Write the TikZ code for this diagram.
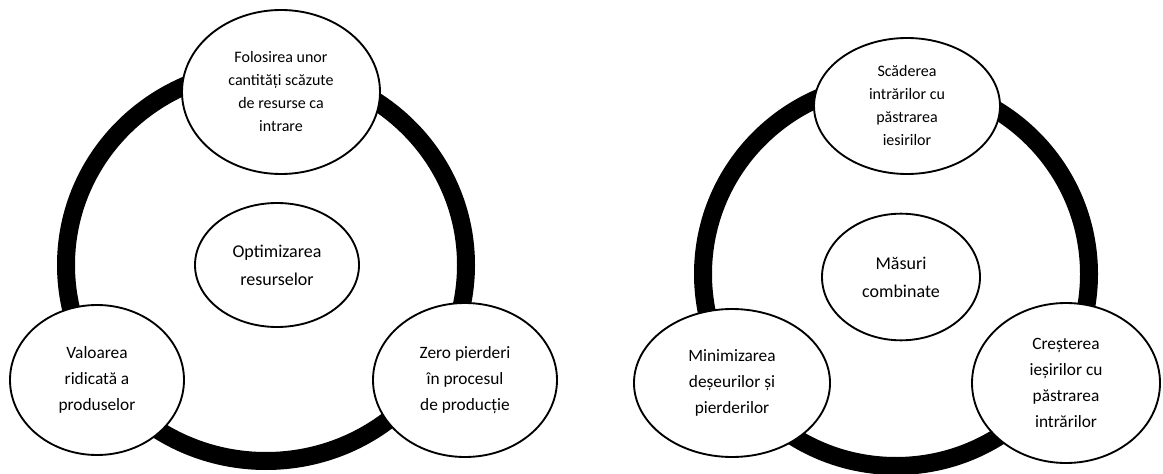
\documentclass[tikz,border=0pt]{standalone}
\usepackage{fontspec}
\setmainfont{Carlito}
\usetikzlibrary{shapes.geometric}

\tikzset{
  bubble/.style={ellipse, draw, line width=1.4pt, fill=white, inner sep=0pt, align=center},
  ring/.style={line width=13.5pt},
  toptext/.style={font=\fontsize{12}{17.25}\selectfont},
  sidetext/.style={font=\fontsize{13}{19.5}\selectfont},
  midtext/.style={font=\fontsize{13.5}{21}\selectfont},
}

\begin{document}
\begin{tikzpicture}[x=0.75pt, y=-0.75pt]
  \useasboundingbox (0, 0) rectangle (1163, 474);

  % Ring centres
  \coordinate (cL) at (266, 265);
  \coordinate (cR) at (896, 274);

  % Thick rings
  \draw[ring] (cL) ellipse [x radius=150pt, y radius=147pt];
  \draw[ring] (cR) ellipse [x radius=144.75pt, y radius=144pt];

  % Left cycle
  \node[bubble, toptext, minimum width=148.5pt, minimum height=123pt] (topL) at (281, 92)
    {Folosirea unor\\cantități scăzute\\de resurse ca\\intrare};
  \node[bubble, midtext, minimum width=123pt, minimum height=93pt] (midL) at (277, 265)
    {Optimizarea\\resurselor};
  \node[bubble, sidetext, minimum width=130.5pt, minimum height=112.5pt] (leftL) at (97, 380)
    {Valoarea\\ridicată a\\produselor};
  \node[bubble, sidetext, minimum width=138pt, minimum height=115.5pt] (rightL) at (465, 380)
    {Zero pierderi\\în procesul\\de producție};

  % Right cycle
  \node[bubble, toptext, minimum width=139.5pt, minimum height=102pt] (topR) at (907, 106)
    {Scăderea\\intrărilor cu\\păstrarea\\iesirilor};
  \node[bubble, midtext, minimum width=118.5pt, minimum height=95pt] (midR) at (901, 277)
    {Măsuri\\combinate};
  \node[bubble, sidetext, minimum width=147pt, minimum height=111pt] (leftR) at (732, 383)
    {Minimizarea\\deșeurilor și\\pierderilor};
  \node[bubble, sidetext, minimum width=141pt, minimum height=120pt] (rightR) at (1066, 383)
    {Creșterea\\ieșirilor cu\\păstrarea\\intrărilor};
\end{tikzpicture}
\end{document}
